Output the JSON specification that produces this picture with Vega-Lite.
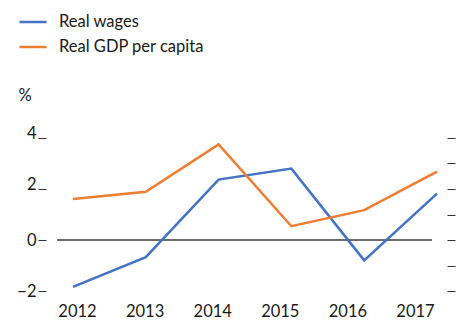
{
  "$schema": "https://vega.github.io/schema/vega-lite/v6.json",
  "autosize": {"type": "none"},
  "width": 375,
  "height": 153,
  "padding": {"left": 57, "top": 138, "right": 32, "bottom": 33},
  "background": "white",
  "config": {
    "view": {"stroke": null},
    "font": "Lato",
    "axis": {"labelFont": "Lato", "labelFontSize": 16.5, "labelColor": "#1a1a1a", "titleFont": "Lato"},
    "legend": {"labelFont": "Lato"}
  },
  "data": {
    "values": [
      {"year": 2012, "series": "Real wages", "value": -1.84},
      {"year": 2013, "series": "Real wages", "value": -0.67},
      {"year": 2014, "series": "Real wages", "value": 2.37},
      {"year": 2015, "series": "Real wages", "value": 2.8},
      {"year": 2016, "series": "Real wages", "value": -0.8},
      {"year": 2017, "series": "Real wages", "value": 1.82},
      {"year": 2012, "series": "Real GDP per capita", "value": 1.61},
      {"year": 2013, "series": "Real GDP per capita", "value": 1.89},
      {"year": 2014, "series": "Real GDP per capita", "value": 3.75},
      {"year": 2015, "series": "Real GDP per capita", "value": 0.54},
      {"year": 2016, "series": "Real GDP per capita", "value": 1.17},
      {"year": 2017, "series": "Real GDP per capita", "value": 2.68}
    ]
  },
  "layer": [
    {
      "mark": {"type": "rule", "color": "#3a3a3a", "strokeWidth": 1.5},
      "data": {"values": [{"zero": 0}]},
      "encoding": {
        "y": {
          "field": "zero", "type": "quantitative",
          "scale": {"domain": [-2, 4], "nice": false, "zero": false},
          "axis": {"orient": "right", "labels": false, "title": null, "grid": false, "domain": false,
                   "values": [-2, -1, 0, 1, 2, 3, 4], "tickSize": 8, "offset": 15, "tickColor": "#333", "tickWidth": 1}
        }
      }
    },
    {
      "mark": {"type": "line", "strokeWidth": 2.5, "strokeJoin": "miter"},
      "encoding": {
        "x": {"field": "year", "type": "quantitative",
              "scale": {"domain": [2012, 2017], "range": [16, 380], "nice": false, "zero": false},
              "axis": null},
        "y": {"field": "value", "type": "quantitative",
              "scale": {"domain": [-2, 4], "nice": false, "zero": false},
              "axis": {"orient": "left", "values": [-2, 0, 2, 4], "grid": false, "domain": false,
                       "tickSize": 8, "offset": 11, "tickColor": "#333", "tickWidth": 1, "labelPadding": 2,
                       "labelOffset": {"condition": {"test": "datum.value > 0", "value": -5}, "value": 0},
                       "title": "%", "titleAngle": 0, "titleX": -28, "titleY": -43, "titleAlign": "left",
                       "titleBaseline": "middle", "titleFontSize": 16.5, "titleFontWeight": "normal", "titleColor": "#1a1a1a"}},
        "color": {"field": "series", "type": "nominal",
                  "scale": {"domain": ["Real wages", "Real GDP per capita"], "range": ["#4472C4", "#ED7D31"]},
                  "legend": {"title": null, "orient": "none", "legendX": -39, "legendY": -131,
                             "symbolType": "stroke", "symbolSize": 729, "symbolStrokeWidth": 2.5,
                             "labelFontSize": 16.5, "labelColor": "#1a1a1a", "labelOffset": 11, "rowPadding": 1}}
      }
    },
    {
      "mark": {"type": "point", "opacity": 0},
      "encoding": {
        "x": {"field": "year", "type": "quantitative",
              "scale": {"domain": [2012, 2017], "range": [20, 358], "nice": false, "zero": false},
              "axis": {"orient": "bottom", "values": [2012, 2013, 2014, 2015, 2016, 2017], "format": "d",
                       "ticks": false, "domain": false, "grid": false, "labelPadding": 12, "labelFlush": false,
                       "labelOverlap": false, "title": null}}
      }
    }
  ],
  "resolve": {"scale": {"x": "independent", "y": "independent"}}
}
